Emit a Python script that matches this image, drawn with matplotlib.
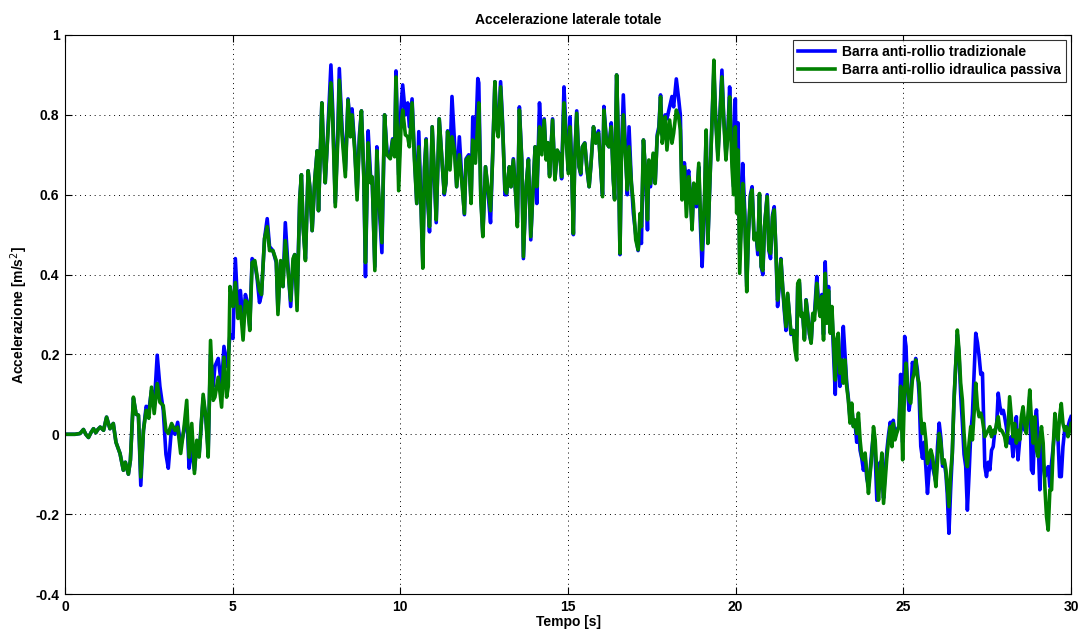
import matplotlib
matplotlib.use("Agg")
import matplotlib.pyplot as plt

plt.rcParams['font.family'] = ['Liberation Sans', 'DejaVu Sans']

title = "Accelerazione laterale totale"
xlabel = "Tempo [s]"
ylabel = "Accelerazione [m/s$^2$]"
series_names = ["Barra anti-rollio tradizionale", "Barra anti-rollio idraulica passiva"]
xticks = [0, 5, 10, 15, 20, 25, 30]
yticks = [-0.4, -0.2, 0, 0.2, 0.4, 0.6, 0.8, 1]
ytick_labels = ["-0.4", "-0.2", "0", "0.2", "0.4", "0.6", "0.8", "1"]

# green series: (time, value)
green = [
(0,0),(0.3,0.0),(0.45,0.002),(0.55,0.012),(0.62,0.0),(0.7,-0.008),(0.78,0.005),(0.85,0.014),(0.92,0.004),(0.98,0.012),(1.05,0.018),(1.15,0.01),(1.24,0.043),(1.34,0.014),(1.44,0.027),(1.52,-0.02),(1.64,-0.048),(1.74,-0.09),(1.8,-0.07),(1.89,-0.1),(1.95,-0.065),(2.04,0.093),(2.12,0.05),(2.19,0.048),(2.26,-0.107),(2.34,0.01),(2.42,0.06),(2.5,0.04),(2.58,0.118),(2.66,0.052),(2.75,0.127),(2.83,0.08),(2.93,0.072),(3.01,0.01),(3.08,0.002),(3.18,0.027),(3.28,0.01),(3.36,0.018),(3.45,-0.048),(3.55,0.018),(3.63,0.085),(3.7,-0.057),(3.78,0.027),(3.86,-0.098),(3.93,-0.015),(4.0,-0.057),(4.12,0.1),(4.2,0.043),(4.27,-0.057),(4.34,0.235),(4.42,0.085),(4.47,0.093),(4.57,0.143),(4.67,0.068),(4.74,0.193),(4.82,0.093),(4.87,0.12),(4.92,0.37),
(5.01,0.32),(5.08,0.38),(5.16,0.29),(5.23,0.32),(5.31,0.236),(5.38,0.335),(5.44,0.33),(5.51,0.26),(5.58,0.43),(5.66,0.435),(5.73,0.395),(5.8,0.36),(5.86,0.35),(5.95,0.49),(6.03,0.52),(6.1,0.46),(6.2,0.46),(6.3,0.435),(6.35,0.30),(6.43,0.435),(6.5,0.37),(6.57,0.485),(6.65,0.41),(6.73,0.335),(6.8,0.44),(6.85,0.45),(6.92,0.31),(7.0,0.59),(7.05,0.65),(7.1,0.52),(7.17,0.435),(7.25,0.66),(7.3,0.62),(7.37,0.51),
(7.45,0.64),(7.52,0.71),(7.56,0.56),(7.66,0.83),(7.71,0.71),(7.76,0.63),(7.81,0.71),(7.86,0.78),(7.93,0.88),(7.98,0.80),(8.06,0.57),(8.14,0.75),(8.18,0.887),(8.26,0.75),(8.36,0.645),(8.44,0.837),(8.51,0.745),(8.56,0.80),(8.64,0.71),(8.71,0.587),(8.78,0.737),(8.84,0.81),(8.91,0.645),(8.96,0.43),(9.04,0.73),(9.11,0.63),(9.16,0.645),(9.24,0.41),(9.3,0.71),(9.35,0.61),(9.45,0.48),(9.53,0.80),(9.6,0.70),(9.7,0.69),(9.77,0.737),(9.83,0.695),(9.87,0.895),
(9.95,0.61),(10.02,0.77),(10.07,0.812),(10.15,0.75),(10.22,0.745),(10.27,0.72),(10.35,0.83),(10.42,0.687),(10.49,0.578),(10.55,0.72),(10.62,0.56),(10.67,0.416),(10.72,0.66),(10.77,0.737),(10.82,0.587),(10.87,0.52),(10.95,0.77),(11.02,0.645),(11.07,0.537),(11.16,0.79),(11.24,0.687),(11.31,0.604),(11.36,0.629),(11.41,0.758),(11.48,0.662),(11.54,0.745),(11.61,0.712),(11.68,0.62),(11.76,0.70),(11.82,0.645),(11.91,0.553),(11.96,0.687),(12.04,0.695),(12.11,0.578),(12.16,0.737),(12.24,0.679),(12.31,0.779),(12.34,0.83),(12.4,0.587),(12.46,0.495),(12.54,0.67),
(12.62,0.612),(12.69,0.56),(12.75,0.687),(12.82,0.883),(12.87,0.77),(12.92,0.745),(12.99,0.87),(13.05,0.77),(13.12,0.612),(13.17,0.604),(13.25,0.67),(13.3,0.62),(13.37,0.687),(13.45,0.587),(13.49,0.52),(13.55,0.812),(13.62,0.687),(13.67,0.445),(13.75,0.62),(13.82,0.687),(13.89,0.495),(13.97,0.637),(14.02,0.72),(14.07,0.62),(14.15,0.77),(14.22,0.70),(14.29,0.787),(14.35,0.687),(14.4,0.73),(14.45,0.645),(14.54,0.787),(14.61,0.637),(14.68,0.712),(14.76,0.695),(14.81,0.645),(14.88,0.83),(14.94,0.745),
(15.01,0.653),(15.06,0.77),(15.11,0.66),(15.16,0.503),(15.2,0.687),(15.26,0.804),(15.33,0.67),(15.38,0.654),(15.43,0.72),(15.5,0.729),(15.56,0.67),(15.63,0.62),(15.68,0.67),(15.76,0.77),(15.83,0.729),(15.91,0.754),(15.98,0.662),(16.03,0.595),(16.07,0.812),(16.15,0.729),(16.22,0.72),(16.29,0.77),(16.35,0.637),(16.39,0.587),(16.45,0.9),(16.49,0.77),(16.55,0.453),(16.59,0.687),(16.65,0.80),(16.72,0.687),(16.77,0.612),(16.82,0.72),(16.89,0.629),(16.95,0.578),(17.02,0.487),(17.09,0.462),(17.15,0.553),(17.19,0.52),(17.25,0.737),(17.32,0.645),(17.37,0.537),
(17.41,0.687),(17.46,0.628),(17.54,0.704),(17.6,0.628),(17.66,0.745),(17.71,0.762),(17.76,0.845),(17.81,0.729),(17.85,0.754),(17.9,0.795),(17.95,0.712),(18.03,0.787),(18.1,0.729),(18.15,0.754),(18.23,0.812),(18.3,0.795),(18.35,0.762),(18.4,0.587),(18.47,0.67),(18.53,0.545),(18.6,0.645),(18.65,0.595),(18.7,0.512),(18.75,0.629),(18.83,0.578),(18.9,0.679),(18.95,0.545),(19.0,0.462),(19.07,0.587),(19.12,0.762),(19.17,0.478),(19.23,0.629),(19.3,0.795),(19.35,0.937),(19.4,0.795),(19.47,0.687),(19.53,0.795),(19.59,0.895),(19.64,0.795),(19.71,0.687),(19.77,0.754),(19.82,0.845),(19.89,0.67),
(19.94,0.6),(19.99,0.77),(20.03,0.554),(20.07,0.712),(20.12,0.403),(20.16,0.5),(20.21,0.628),(20.27,0.545),(20.33,0.357),(20.38,0.503),(20.44,0.595),(20.49,0.612),(20.55,0.487),(20.61,0.503),(20.66,0.462),(20.71,0.603),(20.76,0.42),(20.81,0.41),(20.86,0.52),(20.94,0.595),(20.99,0.462),(21.04,0.453),(21.1,0.545),(21.15,0.562),(21.2,0.462),(21.25,0.336),(21.3,0.378),(21.35,0.437),(21.4,0.37),(21.45,0.32),(21.5,0.27),(21.55,0.353),(21.6,0.303),(21.65,0.253),(21.72,0.26),(21.77,0.211),(21.82,0.186),(21.85,0.378),(21.9,0.386),(21.95,0.295),(22.0,0.303),(22.05,0.236),(22.1,0.336),(22.15,0.295),(22.2,0.253),(22.25,0.228),(22.3,0.303),
(22.35,0.286),(22.42,0.378),(22.47,0.32),(22.52,0.295),(22.57,0.345),(22.62,0.236),(22.67,0.403),(22.72,0.278),(22.77,0.36),(22.82,0.253),(22.87,0.32),(22.92,0.228),(22.97,0.136),(23.01,0.236),(23.06,0.253),(23.11,0.153),(23.16,0.186),(23.21,0.128),(23.26,0.186),(23.31,0.12),(23.36,0.086),(23.41,0.028),(23.46,0.078),(23.51,0.019),(23.56,0.036),(23.61,0.002),(23.66,0.053),(23.71,-0.014),(23.76,-0.056),(23.81,-0.064),(23.86,-0.047),(23.91,-0.098),(23.96,-0.148),(24.01,-0.098),(24.06,-0.056),(24.11,0.019),(24.16,-0.014),(24.21,-0.098),(24.26,-0.165),(24.31,-0.098),(24.36,-0.047),(24.41,-0.173),(24.46,-0.114),(24.51,-0.056),(24.56,-0.014),(24.61,0.019),(24.66,-0.031),(24.7,0.027),(24.75,-0.014),(24.8,0.002),
(24.87,0.019),(24.92,0.12),(24.98,-0.064),(25.03,0.094),(25.08,0.178),(25.12,0.128),(25.17,0.086),(25.22,0.078),(25.27,0.136),(25.32,0.153),(25.37,0.186),(25.42,0.145),(25.47,0.128),(25.52,0.044),(25.57,0.002),(25.62,0.027),(25.67,-0.014),(25.72,-0.073),(25.77,-0.056),(25.82,-0.039),(25.87,-0.056),(25.92,-0.089),(25.97,-0.131),(26.02,-0.064),(26.07,0.002),(26.12,-0.022),(26.17,-0.073),(26.22,-0.064),(26.27,-0.089),(26.31,-0.131),(26.36,-0.181),(26.41,-0.098),(26.46,-0.047),(26.51,0.086),(26.56,0.17),(26.61,0.261),(26.66,0.211),(26.71,0.128),(26.76,0.086),(26.81,0.002),(26.86,-0.056),(26.91,-0.081),(26.96,-0.022),(27.01,0.019),(27.06,-0.014),(27.11,0.053),(27.16,0.128),(27.21,0.069),(27.26,0.044),(27.31,0.053),(27.36,0.036),
(27.43,-0.006),(27.48,0.002),(27.53,0.01),(27.58,0.019),(27.63,-0.006),(27.68,0.01),(27.73,0.002),(27.78,0.027),(27.83,0.044),(27.88,0.01),(27.93,0.01),(27.98,0.002),(28.02,-0.006),(28.07,-0.031),(28.12,0.01),(28.17,0.094),(28.22,0.044),(28.27,-0.006),(28.32,0.027),(28.37,-0.022),(28.42,0.01),(28.47,-0.014),(28.52,0.044),(28.57,0.069),(28.62,0.027),(28.67,0.002),(28.72,0.052),(28.77,0.111),(28.82,0.036),(28.87,-0.022),(28.92,0.044),(28.97,-0.039),(29.02,-0.056),(29.07,-0.014),(29.12,0.019),(29.17,-0.022),(29.22,-0.131),(29.27,-0.206),(29.32,-0.24),(29.37,-0.139),(29.42,-0.139),(29.47,-0.031),(29.52,0.052),(29.56,0.01),(29.61,-0.014),(29.66,0.044),(29.71,0.077),(29.76,0.027),(29.81,0.01),(29.86,0.019),(29.91,-0.006),(29.96,0.01),(30.0,0.027),
]

# blue series: (time, value)
blue = [
(0,0),(0.3,0.0),(0.45,0.002),(0.55,0.012),(0.62,0.0),(0.7,-0.008),(0.78,0.005),(0.85,0.014),(0.92,0.004),(0.98,0.012),(1.05,0.018),(1.15,0.01),(1.24,0.043),(1.34,0.014),(1.44,0.027),(1.52,-0.02),(1.64,-0.048),(1.74,-0.09),(1.8,-0.07),(1.89,-0.1),(1.95,-0.065),(2.04,0.09),(2.12,0.05),(2.19,0.048),(2.26,-0.128),(2.34,0.01),(2.42,0.07),(2.5,0.06),(2.58,0.11),(2.66,0.07),(2.75,0.198),(2.83,0.12),(2.93,0.06),(3.01,-0.05),(3.08,-0.085),(3.18,0.02),(3.28,0.0),(3.36,0.03),(3.45,-0.03),(3.55,0.01),(3.63,0.06),(3.7,-0.085),(3.78,-0.03),(3.86,-0.09),(3.93,-0.02),(4.0,-0.05),(4.12,0.09),(4.2,0.04),(4.27,-0.04),(4.34,0.2),(4.42,0.12),(4.47,0.17),(4.57,0.19),(4.67,0.12),(4.74,0.22),(4.82,0.17),(4.87,0.2),(4.92,0.25),
(5.01,0.24),(5.08,0.44),(5.16,0.30),(5.23,0.36),(5.31,0.28),(5.38,0.35),(5.44,0.33),(5.51,0.27),(5.58,0.44),(5.66,0.43),(5.73,0.39),(5.8,0.33),(5.86,0.35),(5.95,0.49),(6.03,0.54),(6.1,0.47),(6.2,0.46),(6.3,0.43),(6.35,0.31),(6.43,0.43),(6.5,0.37),(6.57,0.53),(6.65,0.42),(6.73,0.32),(6.8,0.43),(6.85,0.45),(6.92,0.33),(7.0,0.59),(7.05,0.65),(7.1,0.52),(7.17,0.44),(7.25,0.66),(7.3,0.62),(7.37,0.51),
(7.45,0.64),(7.52,0.71),(7.56,0.56),(7.66,0.83),(7.71,0.71),(7.76,0.63),(7.81,0.71),(7.86,0.8),(7.93,0.925),(7.98,0.82),(8.06,0.58),(8.14,0.77),(8.18,0.916),(8.26,0.77),(8.36,0.66),(8.44,0.84),(8.51,0.77),(8.56,0.815),(8.64,0.72),(8.71,0.6),(8.78,0.75),(8.84,0.81),(8.91,0.65),(8.96,0.395),(9.04,0.76),(9.11,0.65),(9.16,0.64),(9.24,0.42),(9.3,0.72),(9.35,0.6),(9.45,0.455),(9.53,0.80),(9.6,0.71),(9.7,0.7),(9.77,0.74),(9.83,0.7),(9.87,0.91),
(9.95,0.65),(10.02,0.82),(10.07,0.875),(10.15,0.8),(10.22,0.83),(10.27,0.77),(10.35,0.84),(10.42,0.7),(10.49,0.578),(10.55,0.758),(10.62,0.57),(10.67,0.43),(10.72,0.67),(10.77,0.74),(10.82,0.58),(10.87,0.507),(10.95,0.77),(11.02,0.63),(11.07,0.53),(11.16,0.79),(11.24,0.69),(11.31,0.6),(11.36,0.63),(11.41,0.76),(11.48,0.69),(11.54,0.846),(11.61,0.74),(11.68,0.62),(11.76,0.745),(11.82,0.66),(11.91,0.55),(11.96,0.69),(12.04,0.7),(12.11,0.58),(12.16,0.795),(12.24,0.72),(12.31,0.891),(12.34,0.88),(12.4,0.6),(12.46,0.5),(12.54,0.67),
(12.62,0.6),(12.69,0.53),(12.75,0.69),(12.82,0.883),(12.87,0.78),(12.92,0.75),(12.99,0.883),(13.05,0.78),(13.12,0.6),(13.17,0.6),(13.25,0.67),(13.3,0.62),(13.37,0.69),(13.45,0.59),(13.49,0.53),(13.55,0.82),(13.62,0.69),(13.67,0.44),(13.75,0.62),(13.82,0.69),(13.89,0.487),(13.97,0.64),(14.02,0.72),(14.07,0.578),(14.15,0.83),(14.22,0.72),(14.29,0.79),(14.35,0.69),(14.4,0.73),(14.45,0.65),(14.54,0.79),(14.61,0.64),(14.68,0.71),(14.76,0.7),(14.81,0.64),(14.88,0.87),(14.94,0.76),
(15.01,0.66),(15.06,0.795),(15.11,0.67),(15.16,0.5),(15.2,0.69),(15.26,0.81),(15.33,0.67),(15.38,0.65),(15.43,0.72),(15.5,0.73),(15.56,0.67),(15.63,0.62),(15.68,0.67),(15.76,0.77),(15.83,0.73),(15.91,0.76),(15.98,0.66),(16.03,0.6),(16.07,0.821),(16.15,0.73),(16.22,0.72),(16.29,0.78),(16.35,0.64),(16.39,0.59),(16.45,0.9),(16.49,0.78),(16.55,0.45),(16.59,0.69),(16.65,0.85),(16.72,0.7),(16.77,0.6),(16.82,0.77),(16.89,0.63),(16.95,0.553),(17.02,0.5),(17.09,0.46),(17.15,0.5),(17.19,0.478),(17.25,0.737),(17.32,0.64),(17.37,0.512),
(17.41,0.68),(17.46,0.62),(17.54,0.7),(17.6,0.63),(17.66,0.75),(17.71,0.77),(17.76,0.85),(17.81,0.75),(17.85,0.78),(17.9,0.8),(17.95,0.79),(18.03,0.82),(18.1,0.846),(18.15,0.82),(18.23,0.89),(18.3,0.84),(18.35,0.8),(18.4,0.6),(18.47,0.68),(18.53,0.63),(18.6,0.66),(18.65,0.6),(18.7,0.52),(18.75,0.62),(18.83,0.57),(18.9,0.67),(18.95,0.52),(19.0,0.42),(19.07,0.58),(19.12,0.76),(19.17,0.48),(19.23,0.63),(19.3,0.8),(19.35,0.91),(19.4,0.8),(19.47,0.7),(19.53,0.8),(19.59,0.912),(19.64,0.8),(19.71,0.7),(19.77,0.76),(19.82,0.87),(19.89,0.72),
(19.94,0.62),(19.99,0.84),(20.03,0.6),(20.07,0.78),(20.12,0.45),(20.16,0.52),(20.21,0.678),(20.27,0.56),(20.33,0.37),(20.38,0.5),(20.44,0.6),(20.49,0.62),(20.55,0.49),(20.61,0.5),(20.66,0.45),(20.71,0.6),(20.76,0.42),(20.81,0.4),(20.86,0.52),(20.94,0.6),(20.99,0.46),(21.04,0.44),(21.1,0.55),(21.15,0.57),(21.2,0.46),(21.25,0.32),(21.3,0.37),(21.35,0.44),(21.4,0.37),(21.45,0.31),(21.5,0.26),(21.55,0.35),(21.6,0.3),(21.65,0.25),(21.72,0.26),(21.77,0.22),(21.82,0.25),(21.85,0.37),(21.9,0.38),(21.95,0.3),(22.0,0.3),(22.05,0.24),(22.1,0.337),(22.15,0.3),(22.2,0.25),(22.25,0.23),(22.3,0.3),
(22.35,0.3),(22.42,0.395),(22.47,0.33),(22.52,0.3),(22.57,0.35),(22.62,0.25),(22.67,0.432),(22.72,0.3),(22.77,0.37),(22.82,0.26),(22.87,0.31),(22.92,0.2),(22.97,0.1),(23.01,0.22),(23.06,0.2),(23.11,0.12),(23.16,0.2),(23.21,0.27),(23.26,0.2),(23.31,0.13),(23.36,0.09),(23.41,0.04),(23.46,0.07),(23.51,0.02),(23.56,0.03),(23.61,-0.02),(23.66,0.03),(23.71,-0.04),(23.76,-0.06),(23.81,-0.09),(23.86,-0.06),(23.91,-0.11),(23.96,-0.13),(24.01,-0.09),(24.06,-0.04),(24.11,0.0),(24.16,-0.05),(24.21,-0.165),(24.26,-0.12),(24.31,-0.07),(24.36,-0.1),(24.41,-0.16),(24.46,-0.09),(24.51,-0.04),(24.56,0.0),(24.61,0.03),(24.66,-0.01),(24.7,0.035),(24.75,0.0),(24.8,0.01),
(24.87,0.02),(24.92,0.15),(24.98,-0.02),(25.04,0.245),(25.08,0.22),(25.12,0.12),(25.17,0.06),(25.22,0.09),(25.27,0.18),(25.32,0.16),(25.37,0.19),(25.42,0.16),(25.47,0.1),(25.52,-0.03),(25.57,-0.06),(25.62,-0.02),(25.67,-0.08),(25.72,-0.148),(25.77,-0.09),(25.82,-0.06),(25.87,-0.08),(25.92,-0.1),(25.97,-0.12),(26.02,-0.03),(26.07,0.028),(26.12,-0.01),(26.17,-0.08),(26.22,-0.07),(26.27,-0.1),(26.31,-0.15),(26.36,-0.248),(26.41,-0.14),(26.46,-0.05),(26.51,0.08),(26.56,0.17),(26.61,0.25),(26.66,0.2),(26.71,0.1),(26.76,0.03),(26.81,-0.05),(26.86,-0.08),(26.91,-0.19),(26.96,-0.1),(27.01,0.0),(27.06,0.05),(27.11,0.15),(27.16,0.253),(27.21,0.23),(27.26,0.195),(27.31,0.15),(27.36,0.153),
(27.43,-0.081),(27.48,-0.106),(27.53,-0.07),(27.58,-0.089),(27.63,-0.04),(27.68,-0.031),(27.73,0.01),(27.78,0.019),(27.83,0.103),(27.88,0.07),(27.93,0.052),(27.98,0.06),(28.02,0.044),(28.07,0.019),(28.12,-0.014),(28.17,-0.022),(28.22,-0.006),(28.27,-0.056),(28.32,-0.014),(28.37,0.044),(28.42,-0.064),(28.47,-0.014),(28.52,0.019),(28.57,0.052),(28.62,0.01),(28.67,0.027),(28.72,0.036),(28.77,0.094),(28.82,-0.089),(28.87,-0.098),(28.92,0.027),(28.97,0.061),(29.02,-0.014),(29.07,-0.139),(29.12,-0.022),(29.17,-0.072),(29.22,-0.106),(29.27,-0.098),(29.32,-0.081),(29.37,-0.131),(29.42,-0.072),(29.47,-0.031),(29.52,0.019),(29.56,0.01),(29.61,-0.006),(29.66,-0.106),(29.71,-0.106),(29.76,-0.031),(29.81,0.01),(29.86,0.01),(29.91,0.019),(29.96,0.035),(30.0,0.044),
]

t_blue = [p[0] for p in blue]
v_blue = [p[1] for p in blue]
t_green = [p[0] for p in green]
v_green = [p[1] for p in green]

fig = plt.figure(figsize=(10.86, 6.32), dpi=100)
ax = fig.add_axes([65/1086, 1-594/632, (1071-65)/1086, (594-35)/632])

ax.plot(t_blue, v_blue, color='#0000ff', lw=2.6, label=series_names[0], solid_joinstyle='round')
ax.plot(t_green, v_green, color='#008000', lw=2.6, label=series_names[1], solid_joinstyle='round')

ax.set_xlim(0, 30)
ax.set_ylim(-0.4, 1)
ax.set_xticks(xticks)
ax.set_yticks(yticks)
ax.set_yticklabels(ytick_labels)
ax.tick_params(direction='in', top=True, right=True, length=5, width=0.8, labelsize=10, pad=4)
ax.grid(True, color='black', linestyle=(0, (1, 4)), linewidth=0.7)
for s in ax.spines.values():
    s.set_linewidth(0.8)

ax.set_title(title, fontsize=10, fontweight='bold', pad=8)
ax.set_xlabel(xlabel, fontsize=10, fontweight='bold', labelpad=1)
ax.set_ylabel(ylabel, fontsize=10, fontweight='bold', labelpad=4)
for lab in ax.get_xticklabels() + ax.get_yticklabels():
    lab.set_fontweight('bold')

leg = ax.legend(loc='upper right', fontsize=10, frameon=True, fancybox=False,
                edgecolor='black', borderpad=0.35, handlelength=2.7, labelspacing=0.3,
                borderaxespad=0.35, handletextpad=0.5)
for txt in leg.get_texts():
    txt.set_fontweight('bold')
leg.get_frame().set_linewidth(0.8)

fig.savefig('out.png', dpi=100)
